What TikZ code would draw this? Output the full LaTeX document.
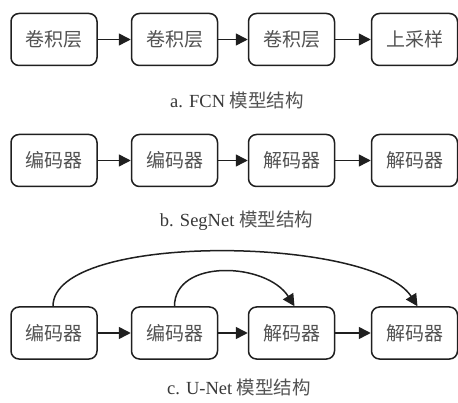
\documentclass[tikz,border=0pt]{standalone}
\usepackage{fontspec}
\setmainfont{Liberation Serif}
\newfontfamily\cjk{Noto Sans CJK SC}
\usetikzlibrary{arrows.meta}
\begin{document}
\begin{tikzpicture}[x=1pt,y=1pt,
  blk/.style={draw=black!88,line width=1.5pt,rounded corners=8pt,minimum width=86pt,minimum height=52pt,inner sep=0pt,font=\fontsize{19}{21}\selectfont\cjk,text=black!68},
  arr/.style={draw=black!88,line width=1.5pt,-{Triangle[length=12pt,width=12pt]}},
  captext/.style={font=\fontsize{18.5}{21}\selectfont,text=black!78}]
\useasboundingbox (0,0) rectangle (458,402);
% row a
\node[blk] (a1) at (54,362.5) {卷积层};
\node[blk] (a2) at (174.5,362.5) {卷积层};
\node[blk] (a3) at (291.5,362.5) {卷积层};
\node[blk] (a4) at (414.5,362.5) {上采样};
\draw[arr] (a1) -- (a2);
\draw[arr] (a2) -- (a3);
\draw[arr] (a3) -- (a4);
\node[captext] (ca) at (237,302) {a. FCN {\cjk\color{black!68} 模型结构}};
% row b
\node[blk] (b1) at (54,241.5) {编码器};
\node[blk] (b2) at (174.5,241.5) {编码器};
\node[blk] (b3) at (291.5,241.5) {解码器};
\node[blk] (b4) at (414.5,241.5) {解码器};
\draw[arr] (b1) -- (b2);
\draw[arr] (b2) -- (b3);
\draw[arr] (b3) -- (b4);
\node[captext] (cb) at (236.5,181) {b. SegNet {\cjk\color{black!68} 模型结构}};
% row c
\node[blk] (c1) at (54,69) {编码器};
\node[blk] (c2) at (174.5,69) {编码器};
\node[blk] (c3) at (291.5,69) {解码器};
\node[blk] (c4) at (414.5,69) {解码器};
\draw[arr] (c1) -- (c2);
\draw[arr] (c2) -- (c3);
\draw[arr] (c3) -- (c4);
\coordinate (u1) at ([xshift=-1pt]c1.north);
\coordinate (v1) at ([xshift=3pt]c4.north);
\coordinate (u2) at (c2.north);
\coordinate (v2) at ([xshift=3pt]c3.north);
\draw[arr] (u1) .. controls +(0,75) and +(-45,70) .. (v1);
\draw[arr] (u2) .. controls +(0,48) and +(-28,44) .. (v2);
\node[captext] (cc) at (239,15) {c. U-Net {\cjk\color{black!68} 模型结构}};
\end{tikzpicture}
\end{document}
